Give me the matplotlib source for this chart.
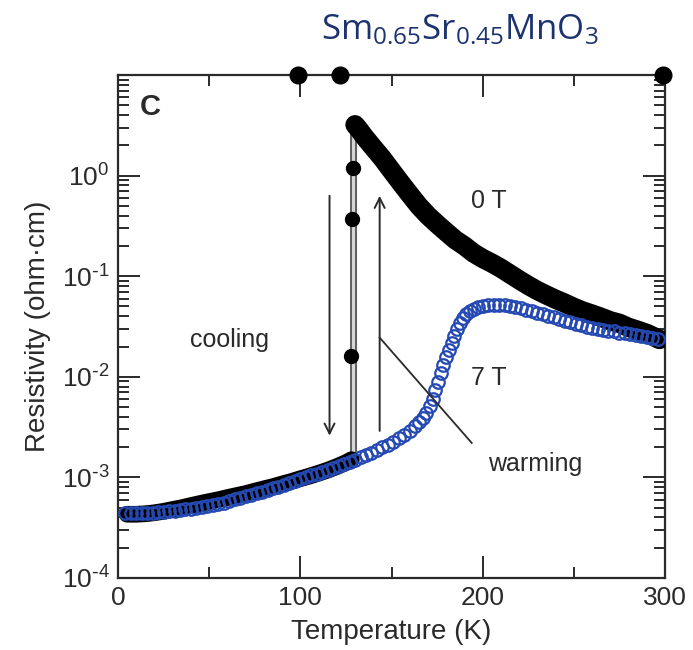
import matplotlib
matplotlib.use("Agg")
import matplotlib.pyplot as plt
from matplotlib.ticker import LogLocator, MultipleLocator, FixedLocator, NullFormatter

plt.rcParams['font.family'] = ['Liberation Sans', 'DejaVu Sans']

# 0 T (cooling), low-temperature branch
t0_low = [5, 10, 15, 20, 25, 30, 35, 40, 45, 50, 55, 60, 65, 70, 75, 80, 85, 90,
          95, 100, 105, 110, 115, 120, 125, 128]
r0_low = [4.3e-4, 4.3e-4, 4.35e-4, 4.45e-4, 4.6e-4, 4.8e-4, 5.0e-4, 5.25e-4, 5.5e-4,
          5.75e-4, 6.0e-4, 6.3e-4, 6.6e-4, 6.9e-4, 7.3e-4, 7.7e-4, 8.1e-4, 8.6e-4,
          9.1e-4, 9.7e-4, 1.03e-3, 1.10e-3, 1.18e-3, 1.28e-3, 1.40e-3, 1.5e-3]

# 0 T, high-temperature branch
t0_high = [130, 132, 135, 140, 145, 150, 155, 160, 165, 170, 175, 180, 185, 190, 195,
           200, 205, 210, 215, 220, 225, 230, 235, 240, 245, 250, 255, 260, 265, 270,
           275, 280, 285, 290, 295, 297]
r0_high = [3.2, 2.9, 2.45, 1.9, 1.48, 1.12, 0.85, 0.65, 0.50, 0.40, 0.33, 0.275, 0.23,
           0.20, 0.17, 0.15, 0.135, 0.12, 0.105, 0.092, 0.081, 0.072, 0.065, 0.059,
           0.054, 0.049, 0.045, 0.042, 0.039, 0.036, 0.034, 0.031, 0.029, 0.027,
           0.0245, 0.0235]

# 0 T, points on the jump
t0_jump = [128, 128.5, 129]
r0_jump = [1.6e-2, 0.37, 1.2]

# gray connecting lines of the jump (cooling / warming)
tj_cool = [128, 128]
rj_cool = [1.5e-3, 3.0]
tj_warm = [130.5, 130.5]
rj_warm = [1.5e-3, 3.0]

# points that ran off the top of the frame
t_over = [98.5, 122, 299]
r_over = [10, 10, 10]

# 7 T
t7 = [4, 7, 10, 13, 16, 19, 22, 25, 28, 31, 34, 37, 40, 43, 46, 49, 52, 55, 58, 61,
      64, 67, 70, 73, 76, 79, 82, 85, 88, 91, 94, 97, 100, 103, 106, 109, 112, 115,
      118, 121, 124, 127, 130, 133, 136, 139, 142, 145, 148, 151, 154, 157, 160, 163,
      165, 167, 169, 171, 172.5, 174, 175.5, 177, 178.5, 180, 181.5, 183, 184.5, 186,
      187.5, 189, 191, 193, 195, 197.5, 200, 203, 206, 209, 212, 215, 218, 221, 224,
      227, 230, 233, 236, 239, 242, 245, 248, 251, 254, 257, 260, 263, 266, 269, 272,
      275, 278, 281, 284, 287, 290, 293, 296]
r7 = [4.4e-4, 4.4e-4, 4.4e-4, 4.42e-4, 4.47e-4, 4.47e-4, 4.52e-4, 4.57e-4, 4.62e-4,
      4.68e-4, 4.79e-4, 4.84e-4, 4.9e-4, 5.0e-4, 5.13e-4, 5.25e-4, 5.37e-4, 5.5e-4,
      5.62e-4, 5.82e-4, 6.03e-4, 6.24e-4, 6.46e-4, 6.68e-4, 6.92e-4, 7.16e-4, 7.41e-4,
      7.76e-4, 8.04e-4, 8.41e-4, 8.71e-4, 9.12e-4, 9.55e-4, 1.0e-3, 1.05e-3, 1.08e-3,
      1.14e-3, 1.19e-3, 1.24e-3, 1.30e-3, 1.36e-3, 1.43e-3, 1.50e-3, 1.58e-3, 1.66e-3,
      1.76e-3, 1.86e-3, 2.0e-3, 2.11e-3, 2.26e-3, 2.45e-3, 2.66e-3, 2.92e-3, 3.24e-3,
      3.55e-3, 3.89e-3, 4.37e-3, 5.13e-3, 6.03e-3, 7.41e-3, 8.91e-3, 1.10e-2, 1.32e-2,
      1.58e-2, 1.86e-2, 2.19e-2, 2.57e-2, 3.02e-2, 3.39e-2, 3.80e-2, 4.17e-2, 4.47e-2,
      4.68e-2, 4.90e-2, 5.01e-2, 5.13e-2, 5.19e-2, 5.19e-2, 5.13e-2, 5.01e-2, 4.90e-2,
      4.79e-2, 4.62e-2, 4.47e-2, 4.32e-2, 4.17e-2, 4.03e-2, 3.89e-2, 3.72e-2, 3.59e-2,
      3.47e-2, 3.35e-2, 3.24e-2, 3.16e-2, 3.09e-2, 3.02e-2, 2.95e-2, 2.88e-2, 2.82e-2,
      2.75e-2, 2.72e-2, 2.66e-2, 2.60e-2, 2.54e-2, 2.51e-2, 2.45e-2, 2.40e-2]

x_major = [0, 100, 200, 300]
y_decades = [1e-4, 1e-3, 1e-2, 1e-1, 1e0]
y_labels = [r'$\mathregular{10^{\text{-}4}}$', r'$\mathregular{10^{\text{-}3}}$',
            r'$\mathregular{10^{\text{-}2}}$', r'$\mathregular{10^{\text{-}1}}$',
            r'$\mathregular{10^{0}}$']

ink = '#2a2a2a'
blue = '#2549b2'

fig = plt.figure(figsize=(6.93, 6.5), dpi=100)
ax = fig.add_axes([0.1703, 0.1108, 0.7893, 0.7738])

# gray jump lines
ax.fill_betweenx(rj_cool, tj_cool, tj_warm, color='#d6d6d6', zorder=1)
ax.plot(tj_cool, rj_cool, color='#555555', lw=1.3, zorder=2)
ax.plot(tj_warm, rj_warm, color='#555555', lw=1.3, zorder=2)

# 0 T data
ax.plot(t0_low, r0_low, color='black', lw=12, solid_capstyle='round', zorder=3)
ax.plot(t0_high, r0_high, color='black', lw=14, solid_capstyle='round', zorder=3)
ax.plot(t0_jump, r0_jump, 'o', color='black', ms=10, zorder=3)
ax.plot(t_over, r_over, 'o', color='black', ms=12, zorder=6, clip_on=False)

# 7 T data
ax.plot(t7, r7, 'o', mfc='none', mec=blue, mew=1.6, ms=9, zorder=4)

ax.set_xlim(0, 300)
ax.set_yscale('log')
ax.set_ylim(1e-4, 1e1)

ax.xaxis.set_major_locator(FixedLocator(x_major))
ax.xaxis.set_minor_locator(MultipleLocator(50))
ax.yaxis.set_major_locator(FixedLocator(y_decades))
ax.set_yticklabels(y_labels)
ax.yaxis.set_minor_locator(LogLocator(base=10, subs=[2, 3, 4, 5, 6, 7, 8, 9]))
ax.yaxis.set_minor_formatter(NullFormatter())

ax.tick_params(which='both', direction='in', top=True, right=True, colors=ink,
               labelsize=19, width=1.4)
ax.tick_params(which='major', length=16)
ax.tick_params(which='minor', length=8)
ax.tick_params(axis='x', pad=6)
ax.tick_params(axis='y', pad=6)
for s in ax.spines.values():
    s.set_color(ink)
    s.set_linewidth(1.6)

ax.set_xlabel('Temperature (K)', fontsize=20, color=ink, labelpad=6)
ax.set_ylabel('Resistivity (ohm\u00b7cm)', fontsize=20, color=ink, labelpad=8)

# annotations
arrow = dict(arrowstyle='->', lw=1.4, color=ink, mutation_scale=18, shrinkA=0, shrinkB=0)
ax.annotate('', xy=(116, 2.6e-3), xytext=(116, 0.63), arrowprops=arrow)
ax.annotate('', xy=(143.5, 0.63), xytext=(143.5, 2.9e-3), arrowprops=arrow)
ax.plot([143.5, 194], [0.0245, 2.2e-3], color=ink, lw=1.3, zorder=5)

ax.text(61, 0.023, 'cooling', fontsize=18, color=ink, ha='center', va='center')
ax.text(203.5, 0.56, '0 T', fontsize=18, color=ink, ha='center', va='center')
ax.text(203.5, 9.8e-3, '7 T', fontsize=18, color=ink, ha='center', va='center')
ax.text(229, 1.35e-3, 'warming', fontsize=18, color=ink, ha='center', va='center')
ax.text(0.059, 0.936, 'C', transform=ax.transAxes, fontsize=21, fontweight='bold',
        color=ink, ha='center', va='center')

fig.text(0.664, 0.954, r'$\mathregular{Sm_{0.65}Sr_{0.45}MnO_3}$', family='Open Sans',
         fontsize=25, color='#1c3370', ha='center', va='center')

fig.savefig('out.png', dpi=100)
